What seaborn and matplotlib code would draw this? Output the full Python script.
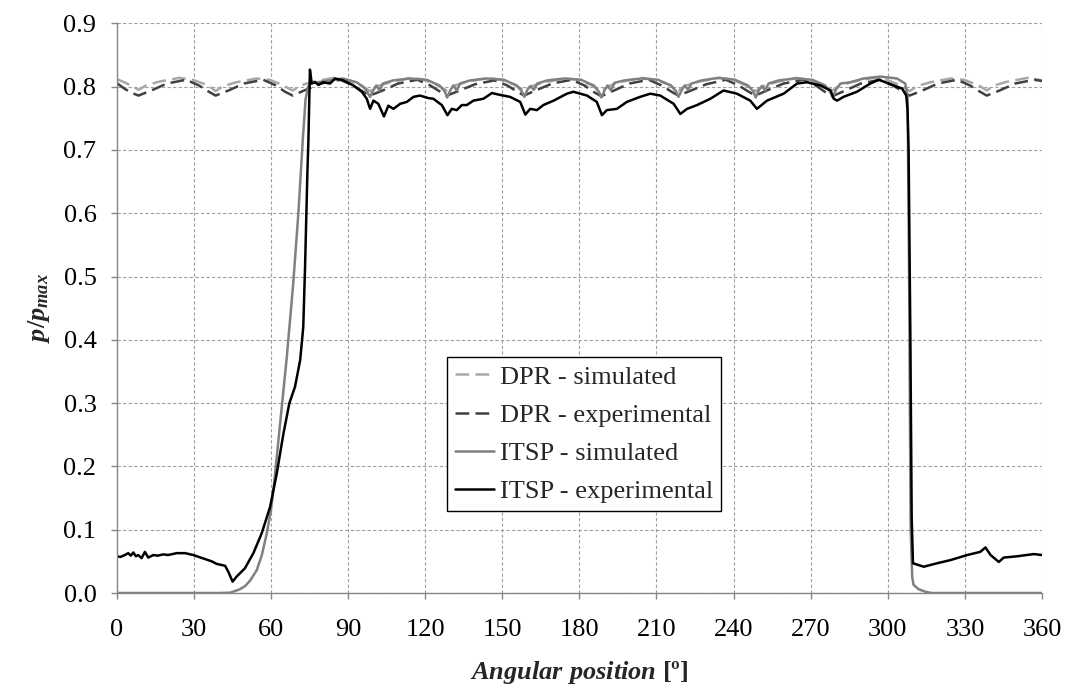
import matplotlib
matplotlib.use("Agg")
import matplotlib.pyplot as plt
import seaborn as sns

# ---------------- data ----------------
x_ticks = [0, 30, 60, 90, 120, 150, 180, 210, 240, 270, 300, 330, 360]
y_ticks = [0.0, 0.1, 0.2, 0.3, 0.4, 0.5, 0.6, 0.7, 0.8, 0.9]
y_tick_labels = ["0.0", "0.1", "0.2", "0.3", "0.4", "0.5", "0.6", "0.7", "0.8", "0.9"]

labels = ["DPR - simulated", "DPR - experimental", "ITSP - simulated", "ITSP - experimental"]

dpr_sim_x = [0, 3, 6.5, 8.5, 11.5, 16.5, 24.5, 29.5, 35, 37,
             38.5, 41.5, 46.5, 54.5, 59.5, 65, 67,
             68.5, 71.5, 76.5, 84.5, 89.5, 95, 97,
             98.5, 101.5, 106.5, 114.5, 119.5, 125, 127,
             128.5, 131.5, 136.5, 144.5, 149.5, 155, 157,
             158.5, 161.5, 166.5, 174.5, 179.5, 185, 187,
             188.5, 191.5, 196.5, 204.5, 209.5, 215, 217,
             218.5, 221.5, 226.5, 234.5, 239.5, 245, 247,
             248.5, 251.5, 256.5, 264.5, 269.5, 275, 277,
             278.5, 281.5, 286.5, 294.5, 299.5, 305, 307,
             308.5, 311.5, 316.5, 324.5, 329.5, 335, 337,
             338.5, 341.5, 346.5, 354.5, 360]
dpr_sim_y = [0.812, 0.807, 0.800, 0.795, 0.802, 0.808, 0.814, 0.811, 0.803, 0.798,
             0.793, 0.801, 0.807, 0.813, 0.811, 0.802, 0.797,
             0.794, 0.802, 0.808, 0.814, 0.811, 0.803, 0.797,
             0.793, 0.801, 0.807, 0.814, 0.811, 0.802, 0.797,
             0.794, 0.802, 0.808, 0.814, 0.811, 0.803, 0.798,
             0.794, 0.801, 0.807, 0.813, 0.811, 0.802, 0.797,
             0.793, 0.801, 0.808, 0.814, 0.811, 0.803, 0.798,
             0.794, 0.802, 0.808, 0.814, 0.811, 0.802, 0.797,
             0.793, 0.801, 0.807, 0.814, 0.811, 0.803, 0.798,
             0.794, 0.802, 0.808, 0.814, 0.811, 0.802, 0.797,
             0.793, 0.801, 0.807, 0.813, 0.811, 0.803, 0.798,
             0.794, 0.802, 0.808, 0.814, 0.810]

dpr_exp_x = [0, 3, 5.5, 8.5, 13.5, 19.5, 27, 32, 35.5,
             38.5, 43.5, 49.5, 57, 62, 65.5,
             68.5, 73.5, 79.5, 87, 92, 95.5,
             98.5, 103.5, 109.5, 117, 122, 125.5,
             128.5, 133.5, 139.5, 147, 152, 155.5,
             158.5, 163.5, 169.5, 177, 182, 185.5,
             188.5, 193.5, 199.5, 207, 212, 215.5,
             218.5, 223.5, 229.5, 237, 242, 245.5,
             248.5, 253.5, 259.5, 267, 272, 275.5,
             278.5, 283.5, 289.5, 297, 302, 305.5,
             308.5, 313.5, 319.5, 327, 332, 335.5,
             338.5, 343.5, 349.5, 357, 360]
dpr_exp_y = [0.806, 0.797, 0.791, 0.786, 0.794, 0.805, 0.811, 0.802, 0.793,
             0.786, 0.794, 0.805, 0.811, 0.802, 0.792,
             0.786, 0.795, 0.805, 0.811, 0.802, 0.793,
             0.786, 0.794, 0.805, 0.811, 0.802, 0.793,
             0.786, 0.794, 0.804, 0.810, 0.802, 0.793,
             0.786, 0.795, 0.805, 0.811, 0.802, 0.792,
             0.785, 0.794, 0.805, 0.811, 0.802, 0.793,
             0.786, 0.794, 0.804, 0.811, 0.802, 0.793,
             0.786, 0.795, 0.805, 0.811, 0.802, 0.792,
             0.785, 0.794, 0.805, 0.811, 0.802, 0.793,
             0.786, 0.794, 0.805, 0.811, 0.802, 0.793,
             0.786, 0.794, 0.805, 0.811, 0.809]

itsp_sim_x = [0, 40, 44, 46, 48, 50, 52, 54.5, 56.5, 58.4, 60, 61, 62.3, 63.6, 66.2, 68.7,
              70.7, 72.4, 73.5, 74.5, 76, 78, 83, 88, 93.4, 96.7,
              98.6, 99.9, 101, 102.3, 103.6, 107.6, 114.1, 120.6, 125.6, 127.6,
              128.6, 129.9, 131, 132.3, 133.6, 137.6, 144.1, 150.6, 155.6, 157.6,
              158.6, 159.9, 161, 162.3, 163.6, 167.6, 174.1, 180.6, 185.6, 187.6,
              188.6, 189.9, 191, 192.3, 193.6, 197.6, 204.1, 210.6, 215.6, 217.6,
              218.6, 219.9, 221, 222.3, 223.6, 227.6, 234.1, 240.6, 245.6, 247.6,
              248.6, 249.9, 251, 252.3, 253.6, 257.6, 264.1, 270.6, 275.6, 277.6,
              278.6, 279.9, 281.6, 285.4, 290.6, 297, 303.6, 306.8, 307.7, 308.3,
              308.9, 309.5, 310, 312, 314.6, 317, 360]
itsp_sim_y = [0, 0, 0.0005, 0.003, 0.006, 0.011, 0.02, 0.036, 0.06, 0.094, 0.13, 0.163, 0.215, 0.268, 0.373, 0.489,
              0.6, 0.715, 0.78, 0.80, 0.807, 0.807, 0.81, 0.813, 0.807, 0.797,
              0.784, 0.795, 0.802, 0.794, 0.805, 0.810, 0.813, 0.811, 0.802, 0.793,
              0.783, 0.795, 0.802, 0.794, 0.805, 0.810, 0.813, 0.811, 0.802, 0.793,
              0.784, 0.796, 0.801, 0.795, 0.805, 0.810, 0.813, 0.811, 0.802, 0.792,
              0.783, 0.795, 0.802, 0.794, 0.806, 0.810, 0.813, 0.811, 0.802, 0.793,
              0.784, 0.795, 0.802, 0.795, 0.805, 0.810, 0.814, 0.811, 0.802, 0.793,
              0.783, 0.795, 0.801, 0.794, 0.805, 0.810, 0.813, 0.811, 0.802, 0.792,
              0.783, 0.796, 0.805, 0.807, 0.813, 0.816, 0.813, 0.805, 0.784, 0.5,
              0.1, 0.026, 0.013, 0.006, 0.002, 0, 0]

itsp_exp_x = [0, 1.5, 3.2, 4.5, 5.5, 6.5, 7.5, 8.4, 9.7, 11, 12.3, 14.3, 16, 18.1, 20, 23.4,
              26.6, 29.8, 32, 35, 37, 38.9, 42.2, 43.4, 45.1, 46.7, 49.9, 53.2, 56.4, 59.7,
              62.3, 64.9, 67.2, 69.4, 71.4, 72.6, 73.3, 74.2, 74.6, 75.2, 75.9, 77.2, 78.5,
              80.4, 83, 85, 88.2, 92.1, 95.4, 97.3, 98.6, 99.9, 101.8, 104, 105.7, 107.7,
              110.3, 112.9, 115.5, 118, 121.3, 123.2, 126.5, 128.7, 130.4, 132.3, 134.3,
              136.2, 138.8, 142.7, 146, 149.2, 153, 157, 159, 160.9, 163.5, 166, 170, 175.2,
              177.7, 183, 186.8, 188.8, 190.7, 194.6, 198.5, 203.7, 207.6, 211.5, 216.7,
              219.3, 221.9, 225.8, 231, 236.1, 241.3, 246.5, 249.1, 253, 259.5, 264.7,
              268.6, 273.8, 277.7, 279, 280.3, 282.8, 288, 293.2, 296.5, 302.3, 305.6,
              307.2, 307.7, 308.1, 308.8, 309.3, 309.8, 314, 319.2, 324.4, 330.9, 336,
              338, 340, 343.2, 345.1, 350.3, 356.8, 360]
itsp_exp_y = [0.058, 0.057, 0.060, 0.063, 0.059, 0.064, 0.058, 0.060, 0.055, 0.065, 0.056, 0.060, 0.059, 0.061, 0.060, 0.063,
              0.063, 0.060, 0.057, 0.053, 0.050, 0.046, 0.043, 0.034, 0.018, 0.026, 0.039, 0.063, 0.094, 0.136,
              0.189, 0.252, 0.300, 0.326, 0.368, 0.420, 0.515, 0.663, 0.715, 0.827, 0.805, 0.807, 0.803,
              0.807, 0.805, 0.813, 0.810, 0.802, 0.792, 0.781, 0.765, 0.778, 0.773, 0.753, 0.770, 0.765,
              0.773, 0.776, 0.784, 0.786, 0.782, 0.781, 0.771, 0.755, 0.765, 0.763, 0.771,
              0.771, 0.778, 0.781, 0.790, 0.787, 0.784, 0.776, 0.756, 0.765, 0.763, 0.771, 0.778, 0.789,
              0.792, 0.786, 0.776, 0.755, 0.763, 0.765, 0.776, 0.784, 0.789, 0.786, 0.773,
              0.757, 0.765, 0.771, 0.781, 0.794, 0.789, 0.778, 0.765, 0.778, 0.789, 0.805,
              0.807, 0.802, 0.794, 0.781, 0.778, 0.784, 0.792, 0.805, 0.811, 0.802, 0.797,
              0.786, 0.763, 0.700, 0.400, 0.120, 0.047, 0.0415, 0.047, 0.052, 0.060, 0.065,
              0.072, 0.060, 0.049, 0.056, 0.058, 0.0615, 0.060]

# ---------------- styling ----------------
sns.set_style("white")
plt.rcParams["font.family"] = ["Liberation Serif", "DejaVu Serif"]
plt.rcParams["mathtext.fontset"] = "custom"
plt.rcParams["mathtext.it"] = "Liberation Serif:italic:bold"
plt.rcParams["mathtext.rm"] = "Liberation Serif:bold"
plt.rcParams["mathtext.bf"] = "Liberation Serif:bold"

FS = 19

fig, ax = plt.subplots(figsize=(10.75, 6.93), dpi=100)
fig.subplots_adjust(left=0.1085, right=0.9693, top=0.9662, bottom=0.1443)

colors = ["#a8a8a8", "#404040", "#808080", "#000000"]
styles = [(0, (5.5, 2.5)), (0, (5.5, 2.5)), "-", "-"]
data = [(dpr_sim_x, dpr_sim_y), (dpr_exp_x, dpr_exp_y),
        (itsp_sim_x, itsp_sim_y), (itsp_exp_x, itsp_exp_y)]

for (xs, ys), lab, col, ls in zip(data, labels, colors, styles):
    sns.lineplot(x=xs, y=ys, ax=ax, color=col, linestyle=ls, linewidth=1.8,
                 label=lab, sort=False, estimator=None)

ax.set_xlim(0, 360)
ax.set_ylim(0, 0.9)
ax.set_xticks(x_ticks)
ax.set_xticklabels([str(t) for t in x_ticks])
ax.set_yticks(y_ticks)
ax.set_yticklabels(y_tick_labels)

ax.set_axisbelow(True)
ax.grid(True, color="#a0a0a0", linestyle=(0, (3, 2)), linewidth=0.8)
for s in ["top", "right"]:
    ax.spines[s].set_visible(False)
for s in ["left", "bottom"]:
    ax.spines[s].set_color("#868686")
    ax.spines[s].set_linewidth(1.0)

ax.tick_params(axis="both", which="major", bottom=True, left=True, direction="out",
               length=4.5, width=1.0, color="#868686", labelsize=FS,
               labelcolor="black")
ax.tick_params(axis="x", pad=14)
ax.tick_params(axis="y", pad=10)

ax.set_xlabel(r"$Angular\ position$ [º]", fontsize=FS, fontweight="bold", labelpad=13)
ax.set_ylabel(r"$p/p_{max}$", fontsize=FS, labelpad=8)

leg = ax.legend(loc="upper left", bbox_to_anchor=(0.357, 0.414), borderaxespad=0,
                frameon=True, fancybox=False, edgecolor="black", framealpha=1,
                fontsize=FS, handlelength=1.5, handletextpad=0.2, borderpad=0.3,
                labelspacing=0.56)
leg.get_frame().set_linewidth(1.0)

fig.savefig("out.png", dpi=100)
